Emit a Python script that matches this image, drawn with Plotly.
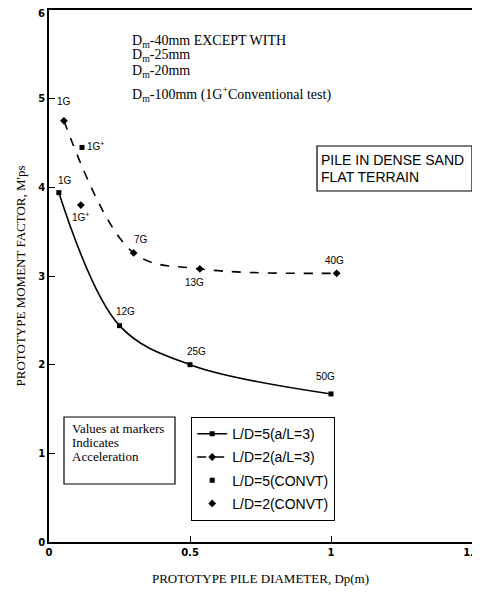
import plotly.graph_objects as go

# Data
x_ld5_alr3 = [0.035, 0.25, 0.5, 1.0]
y_ld5_alr3 = [3.94, 2.44, 2.0, 1.67]
g_ld5_alr3 = ["1G", "12G", "25G", "50G"]

x_ld2_alr3 = [0.053, 0.30, 0.535, 1.02]
y_ld2_alr3 = [4.75, 3.26, 3.08, 3.03]
g_ld2_alr3 = ["1G", "7G", "13G", "40G"]

x_ld5_convt = [0.117]
y_ld5_convt = [4.45]
x_ld2_convt = [0.113]
y_ld2_convt = [3.8]

x_ticks = [0, 0.5, 1, 1.5]
x_ticklabels = ["0", "0.5", "1", "1.5"]
y_ticks = [0, 1, 2, 3, 4, 5]
y_ticklabels = ["0", "1", "2", "3", "4", "5"]
y_top_tick = 6
y_top_label = "6"

W, H = 480, 592
OFF = 8  # page body margin
# plot-area edges in window pixels
WL, WR, WT, WB = 49, 472, 10, 542
L, T = WL - OFF, WT - OFF
R = W - (WR - OFF)
B = H - (WB - OFF)
pw, ph = WR - WL, WB - WT

def px(xp):
    return (xp - WL) / pw

def py(yp):
    return (WB - yp) / ph

serif = "Liberation Serif, Times New Roman, serif"
sans = "Liberation Sans, Arial, sans-serif"
tick_font = dict(family="DejaVu Sans", size=10, color="black", weight="bold")

fig = go.Figure()
fig.add_trace(go.Scatter(
    x=x_ld5_alr3, y=y_ld5_alr3, mode="lines+markers", name="L/D=5(a/L=3)",
    line=dict(color="black", width=1.6, shape="spline", smoothing=1.0),
    marker=dict(symbol="square", size=5, color="black"), legendgroup="a"))
fig.add_trace(go.Scatter(
    x=x_ld2_alr3, y=y_ld2_alr3, mode="lines+markers", name="L/D=2(a/L=3)",
    line=dict(color="black", width=1.6, dash="dash", shape="spline", smoothing=1.0),
    marker=dict(symbol="diamond", size=6, color="black"), legendgroup="b"))
fig.add_trace(go.Scatter(
    x=x_ld5_convt, y=y_ld5_convt, mode="markers", name="L/D=5(CONVT)",
    marker=dict(symbol="square", size=5, color="black"), legendgroup="c"))
fig.add_trace(go.Scatter(
    x=x_ld2_convt, y=y_ld2_convt, mode="markers", name="L/D=2(CONVT)",
    marker=dict(symbol="diamond", size=6, color="black"), legendgroup="d"))

anns = []
lab_font = dict(family=sans, size=10, color="black")
offs5 = [(6, -12), (6, -14), (6, -13), (-6, -17)]
for xv, yv, g, (dx, dy) in zip(x_ld5_alr3, y_ld5_alr3, g_ld5_alr3, offs5):
    anns.append(dict(x=xv, y=yv, text=g, showarrow=False, xshift=dx, yshift=-dy, font=lab_font))
offs2 = [(0, -19), (7, -13), (-5, 14), (-2, -13)]
for xv, yv, g, (dx, dy) in zip(x_ld2_alr3, y_ld2_alr3, g_ld2_alr3, offs2):
    anns.append(dict(x=xv, y=yv, text=g, showarrow=False, xshift=dx, yshift=-dy, font=lab_font))
anns.append(dict(x=x_ld5_convt[0], y=y_ld5_convt[0], text="1G<sup>+</sup>", showarrow=False,
                 xanchor="left", xshift=3, yshift=1, font=lab_font))
anns.append(dict(x=x_ld2_convt[0], y=y_ld2_convt[0], text="1G<sup>+</sup>", showarrow=False,
                 xshift=0, yshift=-12, font=lab_font))

# top y tick label, nudged down so it stays inside the page
anns.append(dict(xref="paper", yref="y", x=0, y=y_top_tick, text=y_top_label, showarrow=False,
                 xanchor="right", yanchor="top", xshift=-2, yshift=4, font=tick_font))

top_font = dict(family=serif, size=14, color="black")
for txt, yp in [("D<sub>m</sub>-40mm EXCEPT WITH", 41), ("D<sub>m</sub>-25mm", 56),
                ("D<sub>m</sub>-20mm", 71),
                ("D<sub>m</sub>-100mm (1G<sup>+</sup>Conventional test)", 94)]:
    anns.append(dict(xref="paper", yref="paper", x=px(130), y=py(yp), text=txt, showarrow=False,
                     xanchor="left", yanchor="middle", font=top_font))

for txt, yp in [("PILE IN DENSE SAND", 160), ("FLAT TERRAIN", 177)]:
    anns.append(dict(xref="paper", yref="paper", x=px(319), y=py(yp), text=txt, showarrow=False,
                     xanchor="left", yanchor="middle", font=dict(family=sans, size=14, color="black")))
for txt, yp in [("Values at markers", 428), ("Indicates", 442), ("Acceleration", 456)]:
    anns.append(dict(xref="paper", yref="paper", x=px(70), y=py(yp), text=txt, showarrow=False,
                     xanchor="left", yanchor="middle", font=dict(family=serif, size=13, color="black")))

shapes = [
    dict(type="rect", xref="paper", yref="paper", x0=px(317), x1=px(472), y0=py(191), y1=py(146),
         line=dict(color="black", width=1.2)),
    dict(type="rect", xref="paper", yref="paper", x0=px(64), x1=px(175), y0=py(484), y1=py(417),
         line=dict(color="black", width=1.2)),
]

fig.update_layout(
    width=W, height=H, margin=dict(l=L, r=R, t=T, b=B, autoexpand=False),
    paper_bgcolor="white", plot_bgcolor="white",
    annotations=anns, shapes=shapes,
    showlegend=True,
    legend=dict(x=px(191), y=py(417), xanchor="left", yanchor="top",
                bordercolor="black", borderwidth=1.2, bgcolor="white",
                font=dict(family=sans, size=14, color="black"),
                tracegroupgap=2, itemwidth=30),
    xaxis=dict(range=[0, 1.5], tickvals=x_ticks, ticktext=x_ticklabels, automargin=False,
               ticklabeloverflow="allow",
               ticks="inside", ticklen=6, tickcolor="black", showgrid=False, zeroline=False,
               showline=True, linecolor="black", linewidth=1.5, mirror=True,
               tickfont=tick_font,
               title=dict(text="PROTOTYPE PILE DIAMETER, Dp(m)", standoff=17,
                          font=dict(family=serif, size=13, color="black"))),
    yaxis=dict(range=[0, 6], tickvals=y_ticks, ticktext=y_ticklabels, automargin=False,
               ticklabeloverflow="allow",
               ticks="inside", ticklen=6, tickcolor="black", showgrid=False, zeroline=False,
               showline=True, linecolor="black", linewidth=1.5, mirror=True,
               tickfont=tick_font,
               title=dict(text="PROTOTYPE MOMENT FACTOR, M'ps", standoff=10,
                          font=dict(family=serif, size=13, color="black"))),
)

fig.write_html("out.html")
